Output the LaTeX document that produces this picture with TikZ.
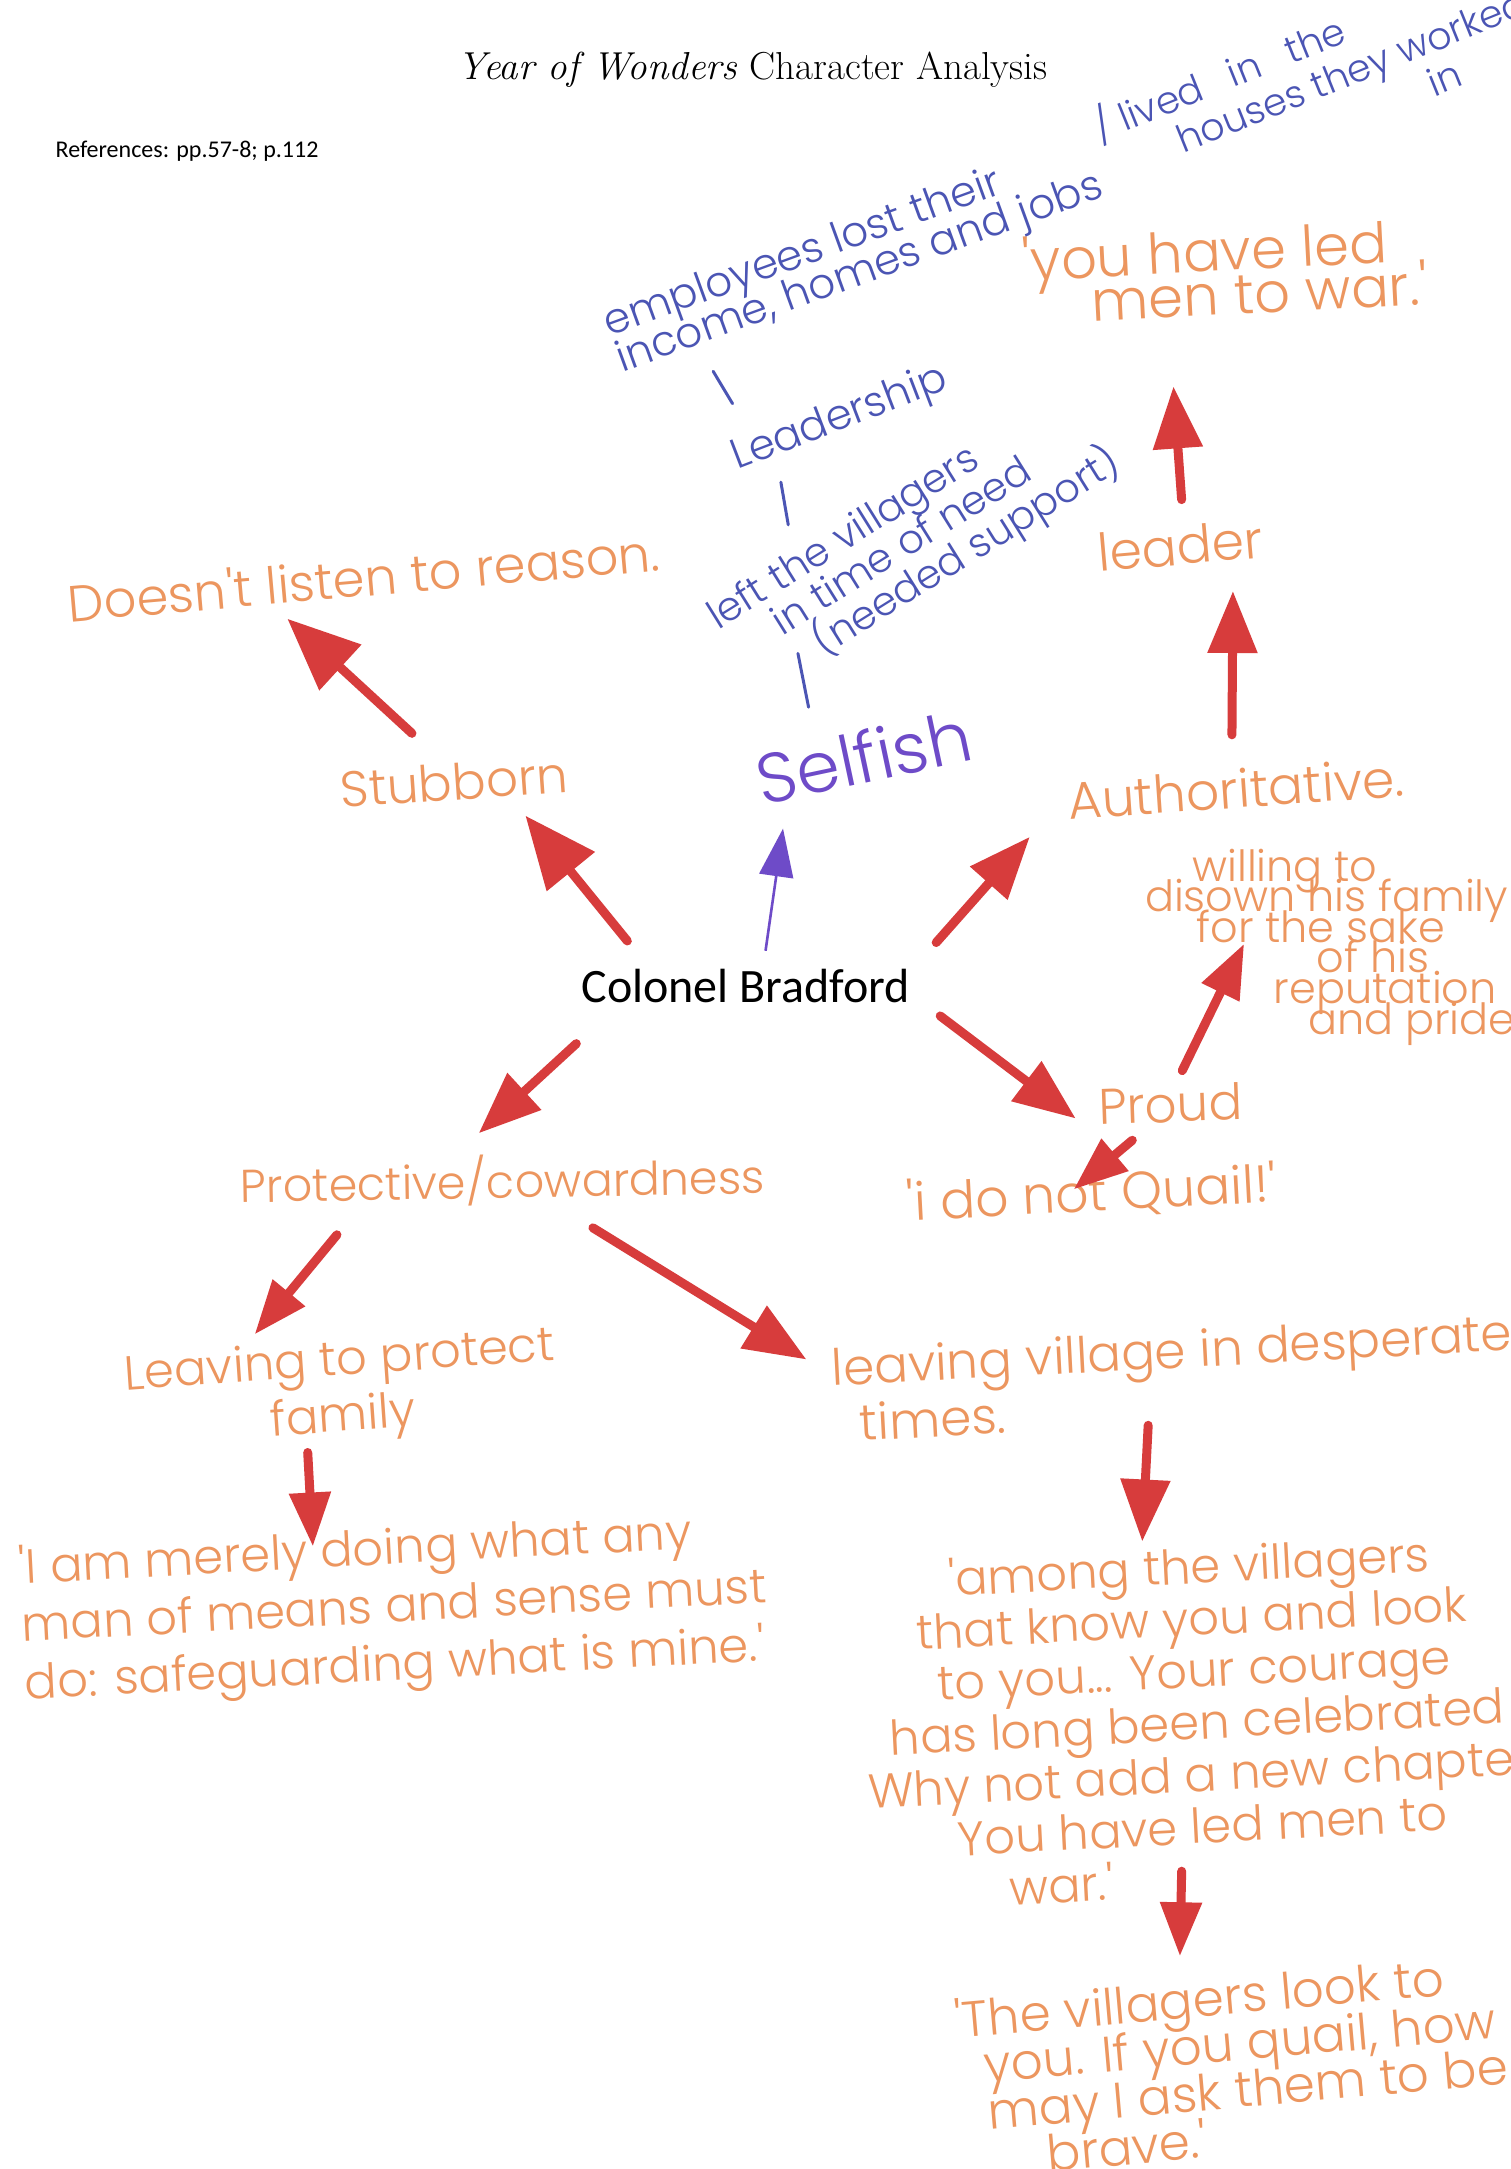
\documentclass[tikz,border=0pt]{standalone}
\usepackage{fontspec}
\newfontfamily\hand{Poppins Light}
\newfontfamily\calib{Carlito}
\usetikzlibrary{arrows.meta}
\definecolor{handorange}{RGB}{236,150,95}
\definecolor{handblue}{RGB}{75,85,180}
\definecolor{selfpurple}{RGB}{110,75,200}
\definecolor{markred}{RGB}{215,60,60}
\tikzstyle{hand} = [text=handorange, inner sep=3pt]
\tikzstyle{bluehand} = [text=handblue, inner sep=3pt]
\tikzstyle{line} = [draw=markred, line width=4.5pt, line cap=round, -{Triangle[length=31pt, width=24pt]}]
\tikzstyle{bigline} = [line, -{Triangle[length=36pt, width=30pt]}]
\tikzstyle{smallline} = [line, -{Triangle[length=27pt, width=20pt]}]
\tikzstyle{thinline} = [draw=selfpurple, line width=1.3pt, -{Triangle[length=24pt, width=17pt]}]
\tikzstyle{bline} = [draw=handblue, line width=1.5pt, line cap=round]
\setlength{\lineskiplimit}{-100pt}

\begin{document}
\begin{tikzpicture}[x=0.6945pt, y=-0.6945pt]
  \path [fill=white] (0,0) rectangle (1088,1562);
  \useasboundingbox (0,0) rectangle (1088,1562);
  % Place nodes
  \node [font=\fontsize{19.5pt}{22pt}\selectfont] (title) at (542,50) {\textit{Year of Wonders} Character Analysis};
  \node [anchor=west, font=\calib\fontsize{12pt}{14pt}\selectfont] (refs) at (35,109) {References: pp.57-8; p.112};
  \node [inner sep=3pt, font=\calib\fontsize{24pt}{28pt}\selectfont] (colonel) at (537,710) {Colonel Bradford};
  \node [hand, rotate=5, font=\hand\fontsize{25.5pt}{30pt}\selectfont] (doesnt) at (262,415) {Doesn't listen to reason.};
  \node [hand, rotate=4, font=\hand\fontsize{25pt}{30pt}\selectfont] (stub) at (327,563) {Stubborn};
  \node [hand, text=selfpurple, rotate=12, font=\hand\fontsize{35pt}{40pt}\selectfont] (selfish) at (622,545) {Selfish};
  \node [hand, rotate=4, font=\hand\fontsize{26pt}{30pt}\selectfont] (auth) at (890,568) {Authoritative.};
  \node [hand, rotate=5, font=\hand\fontsize{26pt}{30pt}\selectfont] (leader) at (850,393) {leader};
  \node [hand, rotate=3, align=left, font=\hand\fontsize{28pt}{22pt}\selectfont] (ledmen) at (882,195) {'you have led\\\hspace*{1.2em}men to war.'};
  \node [bluehand, rotate=20, align=left, font=\hand\fontsize{21pt}{19pt}\selectfont] (emp) at (615,185) {employees lost their\\income, homes and jobs};
  \node [bluehand, rotate=22, align=left, font=\hand\fontsize{19pt}{21pt}\selectfont] (lived) at (948,58) {/ lived\hspace{.5em} in\hspace{.5em} the\\\hspace*{1.9em}houses they worked\\\hspace*{8.6em}in};
  \node [bluehand, rotate=21, font=\hand\fontsize{21pt}{24pt}\selectfont] (lead) at (605,302) {Leadership};
  \node [bluehand, rotate=32, align=left, font=\hand\fontsize{20pt}{19.5pt}\selectfont] (left) at (659,390) {left the villagers\\\hspace*{1.3em}in time of need\\\hspace*{1.9em}(needed support)};
  \node [hand, align=left, font=\hand\fontsize{21.5pt}{15.3pt}\selectfont] (wil) at (958,682) {\hspace*{1.1em}willing to\\disown his family\\\hspace*{1.2em}for the sake\\\hspace*{4em}of his\\\hspace*{3em}reputation\\\hspace*{3.8em}and pride};
  \node [hand, rotate=2, font=\hand\fontsize{25pt}{30pt}\selectfont] (proud) at (843,795) {Proud};
  \node [hand, rotate=3, font=\hand\fontsize{26pt}{30pt}\selectfont] (quail) at (786,860) {'i do not Quail!'};
  \node [hand, rotate=1, font=\hand\fontsize{23pt}{28pt}\selectfont] (prot) at (362,850) {Protective/cowardness};
  \node [hand, rotate=4, align=center, font=\hand\fontsize{24pt}{28pt}\selectfont] (lp) at (246,1002) {Leaving to protect\\family};
  \node [hand, rotate=3, align=left, font=\hand\fontsize{24pt}{29pt}\selectfont] (merely) at (284,1159) {'I am merely doing what any\\man of means and sense must\\do: safeguarding what is mine.'};
  \node [hand, rotate=3, align=left, font=\hand\fontsize{25pt}{28pt}\selectfont] (village) at (845,992) {leaving village in desperate\\\hspace*{0.5em}times.};
  \node [hand, rotate=3, align=center, font=\hand\fontsize{24pt}{26pt}\selectfont] (among) at (862,1239) {'among the villagers\\that know you and look\\to you... Your courage\\has long been celebrated\\Why not add a new chapter\\You have led men to\\war.'\hspace*{6em}};
  \node [hand, rotate=5, align=left, font=\hand\fontsize{25pt}{23.5pt}\selectfont] (brave) at (888,1487) {'The villagers look to\\\hspace*{0.5em}you. If you quail, how\\\hspace*{0.5em}may I ask them to be\\\hspace*{1.6em}brave.'};
  % Draw edges
  \path [bigline, shorten <=14pt, shorten >=8.4pt] (colonel.167) -- (stub.-23);
  \path [bigline, shorten <=18pt, shorten >=6pt] (stub.119) -- (doesnt.197);
  \path [thinline, shorten <=6pt, shorten >=10.8pt] (colonel.52) -- (selfish.201.5);
  \path [line, shorten <=15pt, shorten >=24pt] (colonel.7.6) -- (auth.180);
  \path [line, shorten <=14pt, shorten >=12pt] (auth.95) -- (leader.-27);
  \path [line, shorten <=10pt, shorten >=31pt] (leader.79) -- (ledmen.221);
  \path [line, shorten <=15pt, shorten >=11pt] (colonel.-4.6) -- (proud.south west);
  \path [smallline, shorten <=4.4pt, shorten >=-60pt] (proud.71) -- (wil.217);
  \path [smallline, shorten <=8pt, shorten >=-20.7pt] (proud.223) -- (quail.63);
  \path [line, shorten <=25.5pt, shorten >=11.8pt] (colonel.190) -- (prot.142);
  \path [smallline, shorten <=13pt, shorten >=3pt] (prot.192.5) -- (lp.146);
  \path [line, shorten <=16pt, shorten >=11.4pt] (prot.-27) -- (village.176);
  \path [smallline, shorten >=-11.4pt] (lp.237) -- (merely.131);
  \path [line, shorten <=-3.5pt] (village.242) -- (among.104);
  \path [smallline, shorten <=-16pt, shorten >=8pt] (among.262) -- (brave.115);
  \path [bline, shorten <=6.5pt, shorten >=13pt] (emp.195) -- (lead.163);
  \path [bline, shorten <=5pt, shorten >=8.5pt] (lead.200) -- (left.148);
  \path [bline, shorten <=-17.6pt, shorten >=13.4pt] (left.201) -- (selfish.143);
\end{tikzpicture}
\end{document}
